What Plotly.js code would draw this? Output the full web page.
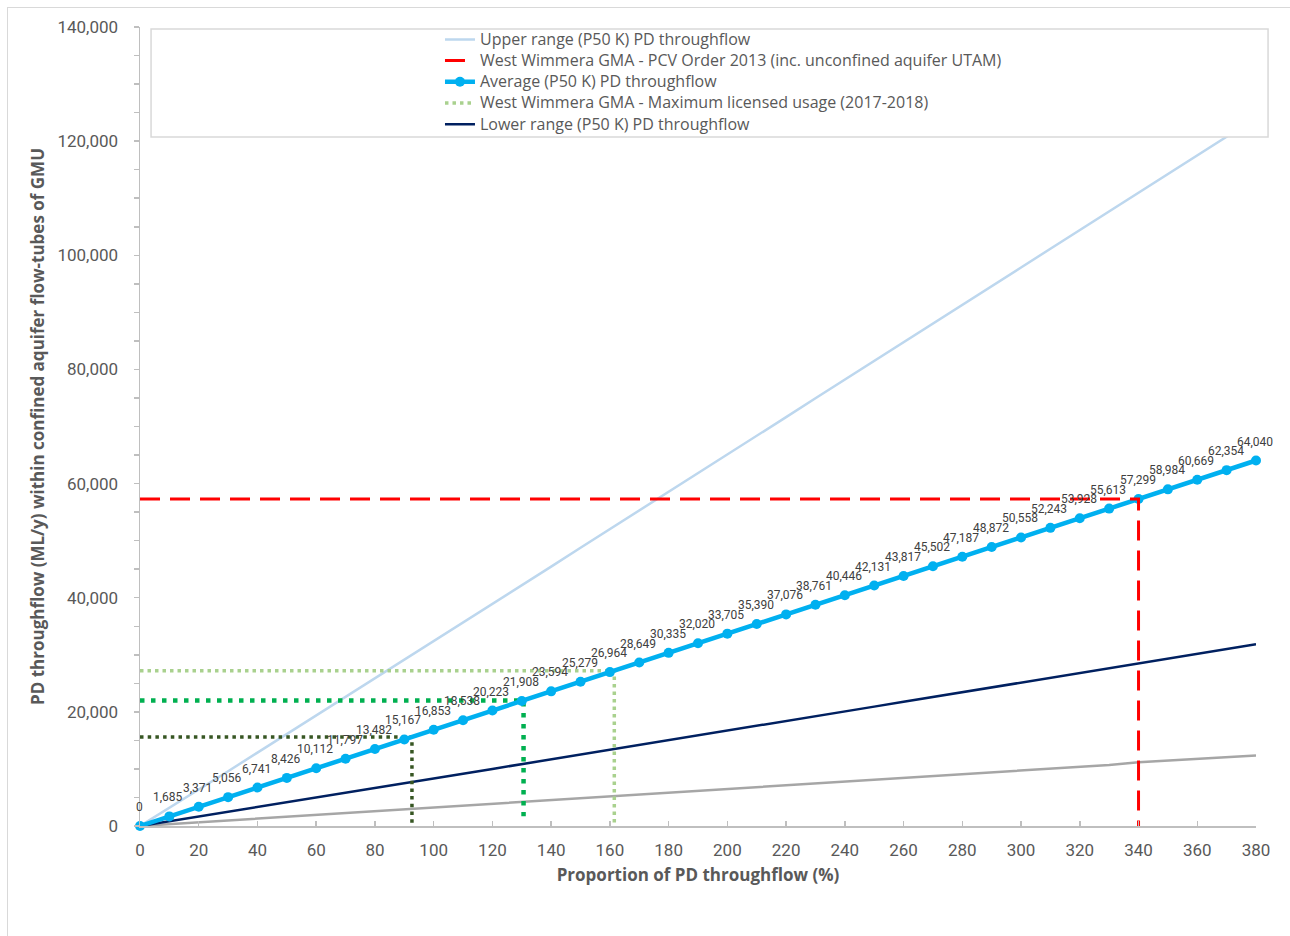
<!DOCTYPE html>
<html>
<head>
<meta charset="utf-8">
<script src="https://cdn.plot.ly/plotly-3.0.1.min.js"></script>
<style>
  html, body { margin: 0; padding: 0; background: #ffffff; }
  #wrap { position: relative; width: 1290px; height: 936px; overflow: hidden; }
  #chart { position: absolute; left: 0; top: 0; width: 1290px; height: 936px; }
  #frame { position: absolute; left: 7px; top: 7px; width: 1300px; height: 940px; border: 1px solid #d9d9d9; pointer-events: none; }
</style>
</head>
<body>
<div id="wrap">
  <div id="chart"></div>
  <div id="frame"></div>
</div>
<script>
// ---- data ----
const proportionPct = [0,10,20,30,40,50,60,70,80,90,100,110,120,130,140,150,160,170,180,190,200,210,220,230,240,250,260,270,280,290,300,310,320,330,340,350,360,370,380];
const averageFlow = [0,1685,3371,5056,6741,8426,10112,11797,13482,15167,16853,18538,20223,21908,23594,25279,26964,28649,30335,32020,33705,35390,37076,38761,40446,42131,43817,45502,47187,48872,50558,52243,53928,55613,57299,58984,60669,62354,64040];
const upperFlow = [0,3150,6350,9600,12850,16100,19350,22600,25850,29150,32400,35650,38950,42200,45450,48750,52000,55300,58550,61850,65100,68400,71650,74950,78200,81500,84750,88050,91300,94600,97850,101150,104400,107700,110950,114250,117500,120800,124050];
const lowerFlow = [0,820,1640,2470,3290,4150,4980,5800,6640,7480,8330,9150,10000,10850,11680,12520,13350,14180,15020,15880,16720,17550,18400,19250,20080,20920,21760,22600,23450,24290,25130,25970,26810,27650,28420,29260,30100,30950,31840];
const greyFlow = [0,320,640,960,1290,1610,1940,2260,2580,2900,3230,3550,3880,4200,4520,4850,5170,5500,5820,6150,6470,6800,7120,7450,7770,8100,8420,8750,9070,9400,9720,10050,10370,10700,11150,11450,11750,12050,12350];

// reference lines
const pcvOrderFlow = 57299;      const pcvOrderPct = 340;
const licensedFlow = 27200;      const licensedPct = 161.5;
const midGreenFlow = 22000;      const midGreenPct = 130.6;  const midGreenEnd = 1700;
const darkGreenFlow = 15600;     const darkGreenPct = 92.6;

const legendNames = [
  'Upper range (P50 K) PD throughflow',
  'West Wimmera GMA - PCV Order 2013 (inc. unconfined aquifer UTAM)',
  'Average (P50 K) PD throughflow',
  'West Wimmera GMA - Maximum licensed usage (2017-2018)',
  'Lower range (P50 K) PD throughflow'
];

const avgLabels = averageFlow.map(v => v.toLocaleString('en-US'));
const legendText = legendNames.map(n => '<span style="font-size:16px">' + n + '</span>');

const FONT = 'Roboto, "Open Sans", sans-serif';
const FONT2 = '"Open Sans", Roboto, sans-serif';
const GREY_TXT = '#595959';

const traces = [
  { x: proportionPct, y: greyFlow, mode: 'lines', line: {color: '#a6a6a6', width: 2.5}, showlegend: false, hoverinfo: 'skip' },
  { x: proportionPct, y: lowerFlow, mode: 'lines', name: legendText[4], legendrank: 5, line: {color: '#002060', width: 2.5} },
  { x: proportionPct, y: upperFlow, mode: 'lines', name: legendText[0], legendrank: 1, line: {color: '#bdd7ee', width: 2.5} },
  { x: [0, darkGreenPct, darkGreenPct], y: [darkGreenFlow, darkGreenFlow, 0], mode: 'lines', showlegend: false,
    line: {color: '#375623', width: 3.5, dash: '3.5px,4.2px'} },
  { x: [0, midGreenPct, midGreenPct], y: [midGreenFlow, midGreenFlow, midGreenEnd], mode: 'lines', showlegend: false,
    line: {color: '#00b050', width: 4.5, dash: '4.5px,6.5px'} },
  { x: [0, licensedPct, licensedPct], y: [licensedFlow, licensedFlow, 0], mode: 'lines', name: legendText[3], legendrank: 4,
    line: {color: '#a9d18e', width: 3.5, dash: '3.5px,4px'} },
  { x: proportionPct, y: averageFlow, mode: 'lines+markers', name: legendText[2], legendrank: 3,
    line: {color: '#00b0f0', width: 4.5}, marker: {color: '#00b0f0', size: 10}, cliponaxis: false },
  { x: [0, pcvOrderPct, pcvOrderPct], y: [pcvOrderFlow, pcvOrderFlow, 0], mode: 'lines', name: legendText[1], legendrank: 2,
    line: {color: '#ff0000', width: 3, dash: '20px,10px'} }
];

const labelAnnotations = proportionPct.map((xv, i) => ({
  x: xv, y: averageFlow[i], xref: 'x', yref: 'y', text: avgLabels[i], showarrow: false,
  yshift: 19, xshift: -1, font: {family: FONT, size: 12, color: '#404040'}
}));

const layout = {
  width: 1290, height: 936,
  margin: {l: 140, r: 34, t: 27, b: 110},
  paper_bgcolor: '#ffffff', plot_bgcolor: '#ffffff',
  font: {family: FONT, color: GREY_TXT},
  showlegend: true,
  legend: {
    x: 0.2688, xanchor: 'left', y: 1.004, yanchor: 'top',
    bgcolor: 'rgba(0,0,0,0)', borderwidth: 0,
    font: {family: FONT2, size: 14, color: GREY_TXT},
    traceorder: 'normal', tracegroupgap: 0
  },
  annotations: labelAnnotations,
  shapes: [
    { type: 'rect', xref: 'paper', yref: 'paper', x0: 0.0099, x1: 1.0108, y0: 0.8623, y1: 0.9975,
      fillcolor: '#ffffff', line: {color: '#d9d9d9', width: 1.5}, layer: 'above' }
  ],
  xaxis: {
    range: [0, 380], dtick: 20, tick0: 0,
    showgrid: false, zeroline: false,
    showline: true, linecolor: '#bfbfbf', linewidth: 1.5,
    ticks: 'inside', ticklen: 5, tickcolor: '#bfbfbf', tickwidth: 1.5,
    tickfont: {family: FONT, size: 17, color: GREY_TXT},
    ticklabelstandoff: 8,
    title: {text: 'Proportion of PD throughflow (%)', font: {family: FONT2, size: 17, color: GREY_TXT, weight: 'bold'}, standoff: 10}
  },
  yaxis: {
    range: [0, 140000], dtick: 20000, tick0: 0,
    tickformat: ',d',
    showgrid: false, zeroline: false,
    showline: true, linecolor: '#bfbfbf', linewidth: 1.5,
    ticks: 'outside', ticklen: 5, tickcolor: '#bfbfbf', tickwidth: 1.5,
    minor: {dtick: 5000, ticks: 'outside', ticklen: 5, tickcolor: '#bfbfbf', tickwidth: 1.5, showgrid: false},
    tickfont: {family: FONT, size: 17, color: GREY_TXT},
    ticklabelstandoff: 12,
    title: {text: 'PD throughflow (ML/y) within confined aquifer flow-tubes of GMU', font: {family: FONT2, size: 17, color: GREY_TXT, weight: 'bold'}, standoff: 8}
  }
};

Plotly.newPlot('chart', traces, layout, {displayModeBar: false, staticPlot: true});
</script>
</body>
</html>
